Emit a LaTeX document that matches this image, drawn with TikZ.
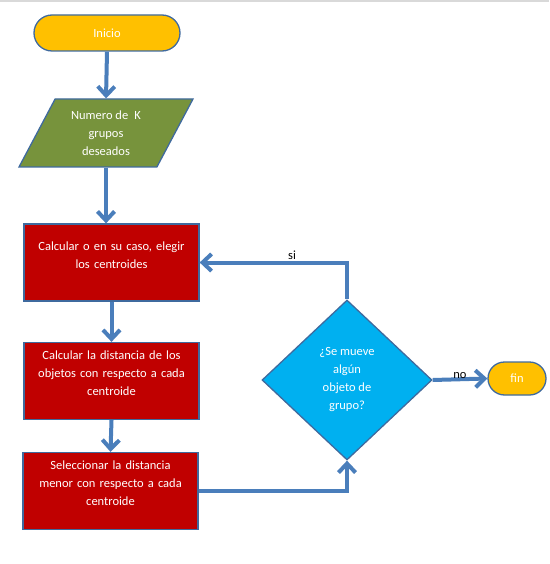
\documentclass[tikz,border=0pt]{standalone}
\usepackage{fontspec}
\setmainfont{Carlito}
\usetikzlibrary{shapes.geometric,shapes.misc,arrows.meta}

\definecolor{amarillo}{HTML}{FFC000}
\definecolor{verde}{HTML}{77933C}
\definecolor{rojo}{HTML}{C00000}
\definecolor{celeste}{HTML}{00B0F0}
\definecolor{borde}{HTML}{3F6A9E}
\definecolor{azul}{HTML}{4A7EBB}

\tikzset{
	base/.style={draw=borde,line width=1.3pt,text=white,align=center,
		font=\fontsize{12.5}{18}\selectfont,inner sep=0pt},
	terminal/.style={base,rounded rectangle,fill=amarillo},
	proceso/.style={base,rectangle,fill=rojo,minimum width=175pt,
		minimum height=77pt,text width=165pt},
	datos/.style={base,trapezium,trapezium left angle=61,trapezium right angle=119,
		trapezium stretches=true,fill=verde,minimum width=174pt,minimum height=68pt},
	decision/.style={base,diamond,fill=celeste,minimum width=170pt,minimum height=160pt},
	flecha/.style={draw=azul,line width=4pt,-{Straight Barb[length=9pt,width=17pt]}},
	rotulo/.style={font=\fontsize{12.5}{15}\selectfont,text=black,inner sep=1pt}
}

\begin{document}
\begin{tikzpicture}[x=1pt,y=-1pt]
	\useasboundingbox (0,0) rectangle (549,564);
	\fill[gray!30] (0,0) rectangle (549,2);
	% nodos
	\node[terminal,minimum width=146pt,minimum height=36pt] (inicio) at (107,33) {Inicio};
	\node[datos] (numk) at (106,133) {Numero de\enspace K\\grupos\\deseados};
	\node[proceso] (calc) at (111.5,262.5) {Calcular o en su caso, elegir\\los centroides\\[-3pt]\mbox{}};
	\node[proceso] (dist) at (111.5,381) {Calcular la distancia de los\\objetos con respecto a cada\\centroide\\[-3pt]\mbox{}};
	\node[proceso] (sel) at (110.5,491) {Seleccionar la distancia\\menor con respecto a cada\\centroide\\[-3pt]\mbox{}};
	\node[decision] (mueve) at (347,380) {¿Se mueve\\algún\\objeto de\\grupo?};
	\node[terminal,minimum width=58pt,minimum height=33pt] (fin) at (517,378.5) {fin};
	% flechas
	\draw[flecha] (inicio.south) -- (numk.north);
	\draw[flecha] (numk.south) -- (numk.south |- calc.north);
	\draw[flecha] (calc.south) -- (dist.north);
	\draw[flecha] (dist.south) -- (sel.north);
	\draw[flecha] (sel.east) -| (mueve.south);
	\draw[flecha] (mueve.north) |- (calc.east);
	\draw[flecha] (mueve.east) -- (fin.west);
	% etiquetas
	\node[rotulo] (si) at (292,255) {si};
	\node[rotulo] (no) at (460,376) {no};
\end{tikzpicture}
\end{document}
